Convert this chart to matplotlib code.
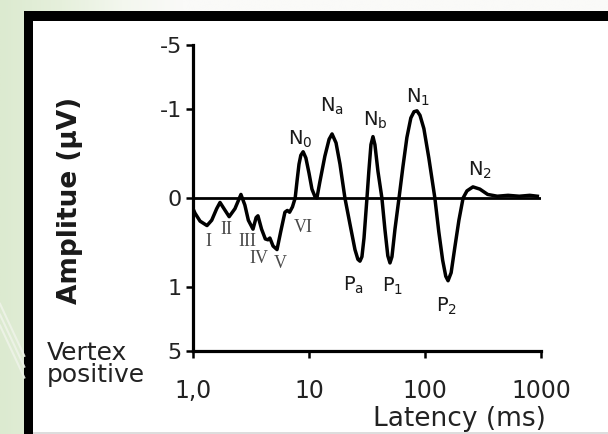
import numpy as np
import matplotlib
matplotlib.use("Agg")
import matplotlib.pyplot as plt
from matplotlib.patches import Rectangle

# Auditory evoked potential: latency (ms) and amplitude (µV, vertex negative up)
latency_ms = [1.0, 1.04, 1.15, 1.32, 1.45, 1.6, 1.71, 1.85, 2.05, 2.3, 2.59, 2.8,
              3.0, 3.29, 3.5, 3.63, 3.9, 4.2, 4.43, 4.6, 4.9, 5.3, 5.7, 6.2, 6.5,
              6.8, 7.2, 7.6, 7.9, 8.2, 8.5, 8.9, 9.4, 10.0, 10.6, 11.3, 11.7,
              12.4, 13.7, 14.9, 15.8, 17.1, 18.5, 20.4, 22.6, 24.9, 26.4, 27.5,
              28.6, 29.8, 31.6, 32.8, 34.2, 35.6, 37.0, 39.3, 42.5, 45.1, 47.8,
              49.9, 51.9, 55.1, 59.7, 64.5, 69.8, 75.5, 80.4, 85.3, 90.5, 97.8,
              107.9, 121.6, 131.5, 142, 151, 158, 168, 181, 196, 213, 230, 259,
              297, 347, 420, 520, 650, 800, 930]
amplitude_uv = [0.12, 0.17, 0.26, 0.31, 0.25, 0.12, 0.05, 0.12, 0.21, 0.12, -0.04, 0.08,
                0.25, 0.35, 0.22, 0.20, 0.35, 0.46, 0.47, 0.45, 0.54, 0.58, 0.38, 0.16, 0.14,
                0.16, 0.10, 0.0, -0.20, -0.38, -0.48, -0.52, -0.45, -0.28, -0.10, -0.01, 0.0,
                -0.18, -0.47, -0.66, -0.72, -0.62, -0.38, 0.0, 0.30, 0.58, 0.69, 0.71,
                0.66, 0.45, 0.0, -0.30, -0.60, -0.69, -0.60, -0.30, 0.0, 0.35, 0.65,
                0.73, 0.66, 0.35, 0.0, -0.35, -0.68, -0.90, -0.97, -0.98, -0.93, -0.78,
                -0.45, 0.0, 0.38, 0.70, 0.88, 0.93, 0.84, 0.55, 0.25, 0.0, -0.08, -0.125,
                -0.10, -0.04, -0.02, -0.03, -0.02, -0.03, -0.02]

y_ticks = [-5, -1, 0, 1, 5]
x_ticks = [1, 10, 100, 1000]
x_tick_labels = ["1,0", "10", "100", "1000"]

# Named components: (label, latency, amplitude, dx px, dy px)
components = [
    (r"N$_\mathregular{0}$", 8.9, -0.52, -15, 7),
    (r"N$_\mathregular{a}$", 15.8, -0.72, -12, 22),
    (r"N$_\mathregular{b}$", 35.6, -0.69, -10, 11),
    (r"N$_\mathregular{1}$", 85.3, -0.98, -11, 8),
    (r"N$_\mathregular{2}$", 259, -0.125, -5, 11),
    (r"P$_\mathregular{a}$", 27.5, 0.71, -17, -30),
    (r"P$_\mathregular{1}$", 49.9, 0.73, -8, -29),
    (r"P$_\mathregular{2}$", 158, 0.93, -12, -31),
]
waves = [
    ("I", 1.32, 0.31, 1, -16),
    ("II", 1.71, 0.05, 6, -27),
    ("III", 3.29, 0.35, -6, -12),
    ("IV", 4.43, 0.47, -9, -19),
    ("V", 5.3, 0.58, 3, -14),
    ("VI", 6.8, 0.16, 14, -15),
]

K = 0.72  # compression of the outer (|v| > 1) part of the amplitude axis


def fwd(v):
    v = np.asarray(v, dtype=float)
    a = np.abs(v)
    return np.sign(v) * np.where(a <= 1, a, 1 + K * np.log(np.maximum(a, 1e-9)) / np.log(5))


def inv(u):
    u = np.asarray(u, dtype=float)
    b = np.abs(u)
    return np.sign(u) * np.where(b <= 1, b, 5 ** ((b - 1) / K))


W, H = 608, 434
fig = plt.figure(figsize=(W / 100, H / 100), dpi=100)
fig.patch.set_facecolor("white")

# Backdrop: pale green slide background with a black-bordered white panel
bg = fig.add_axes([0, 0, 1, 1], zorder=-10)
bg.set_axis_off()
gx = np.linspace(0, 1, 300)
grad = np.outer(np.ones(50), gx)
bg.imshow(grad, extent=[0, 1, 0, 1], aspect="auto", cmap=matplotlib.colors.LinearSegmentedColormap.from_list(
    "g", ["#dcead0", "#e6f0dc", "#f3f7ee", "#fafaf8"]), vmin=0, vmax=0.3)
for off in (0.0, 0.025, 0.05):
    bg.plot([0, 0.04], [0.30 - off, 0.18 - off], color="#eef3e8", lw=1.5, alpha=0.9)
bg.add_patch(Rectangle((24 / W, 0), 1, (H - 11) / H, facecolor="black", edgecolor="none"))
bg.add_patch(Rectangle((33 / W, 2 / H), 1, (H - 21 - 2) / H, facecolor="white", edgecolor="none"))
bg.add_patch(Rectangle((33 / W, 0), 1, 2 / H, facecolor="#dddddd", edgecolor="none"))
bg.set_xlim(0, 1)
bg.set_ylim(0, 1)

ax = fig.add_axes([193 / W, 1 - 351 / H, (541 - 193) / W, (351 - 45) / H])
ax.set_facecolor("none")
ax.set_xscale("log")
ax.set_yscale("function", functions=(fwd, inv))
ax.set_xlim(1, 1000)
ax.set_ylim(5, -5)

ax.axhline(0, color="black", lw=2.0, zorder=2)
ax.plot(latency_ms, amplitude_uv, color="black", lw=2.5, solid_joinstyle="round", zorder=3)

ax.set_yticks(y_ticks)
ax.set_yticklabels([str(t) for t in y_ticks])
ax.set_xticks(x_ticks)
ax.set_xticklabels(x_tick_labels)
ax.xaxis.set_minor_locator(matplotlib.ticker.NullLocator())
ax.yaxis.set_minor_locator(matplotlib.ticker.NullLocator())

for s in ("top", "right"):
    ax.spines[s].set_visible(False)
for s in ("left", "bottom"):
    ax.spines[s].set_linewidth(2.3)
    ax.spines[s].set_color("black")
ax.tick_params(axis="both", direction="out", length=5, width=1.8, color="black")
ax.tick_params(axis="y", labelsize=16, pad=3, labelcolor="#222222")
ax.tick_params(axis="x", labelsize=17, pad=15, labelcolor="#222222")

for lab, x, y, dx, dy in components:
    ax.annotate(lab, xy=(x, y), xytext=(dx, dy), textcoords="offset pixels",
                ha="left", va="baseline", fontsize=14, color="#1a1a1a")
for lab, x, y, dx, dy in waves:
    ax.annotate(lab, xy=(x, y), xytext=(dx, dy), textcoords="offset pixels",
                ha="center", va="center", fontsize=13, color="#4a4a4a",
                family="Liberation Serif")

fig.text(70 / W, 1 - 200 / H, "Amplitue (µV)", rotation=90, ha="center", va="center",
         fontsize=19, fontweight="bold", color="#1a1a1a")
fig.text(47 / W, 1 - 341 / H, "Vertex\npositive", ha="left", va="top",
         fontsize=18, color="#222222", linespacing=0.92)
fig.text(546 / W, 1 - 426 / H, "Latency (ms)", ha="right", va="baseline",
         fontsize=19, color="#222222")

fig.savefig("out.png", dpi=100)
